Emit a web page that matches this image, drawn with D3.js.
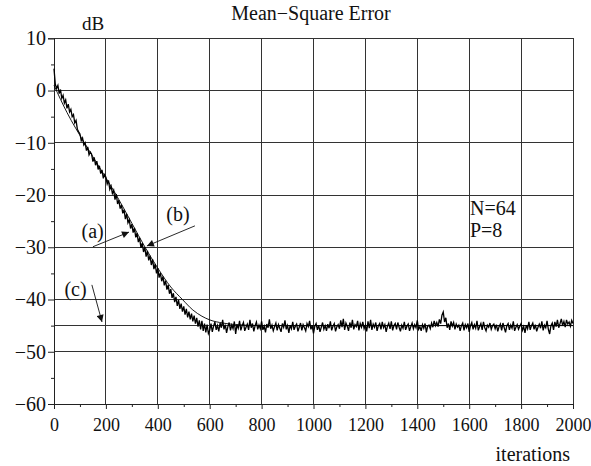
<!DOCTYPE html>
<html><head><meta charset="utf-8">
<script src="https://cdn.jsdelivr.net/npm/d3@7"></script>
<style>body{margin:0;background:#fff}svg{display:block}text{font-family:"Liberation Serif","Times New Roman",serif;fill:#111}</style>
</head><body>
<script>
// ---- data ----
const title = "Mean\u2212Square Error";
const yLabel = "dB";
const xLabel = "iterations";
const xTicks = [0,200,400,600,800,1000,1200,1400,1600,1800,2000];
const yTicks = [10,0,-10,-20,-30,-40,-50,-60];
const step = 5; // iteration spacing of simulated curve samples
// (a) simulated MSE (dB), one sample every 5 iterations, 0..2000
const curveA = [
4.2,1.2,0.4,1.0,-0.6,0.2,-1.5,-0.9,-2.4,-1.8,-3.4,-2.6,-4.1,-3.6,-5.0,-4.6,-6.2,-5.7,-7.4,-7.9,
-8.3,-9.6,-9.1,-10.4,-10.0,-11.5,-10.8,-12.3,-11.8,-12.2,-13.6,-12.8,-14.3,-13.5,-15.1,-14.4,-15.9,-15.2,-16.8,-16.1,
-16.6,-17.9,-17.2,-18.9,-18.3,-19.7,-19.1,-20.9,-19.8,-21.7,-21.0,-22.6,-21.9,-23.5,-22.8,-24.6,-23.6,-25.3,-24.7,-26.4,
-25.6,-27.2,-26.3,-28.1,-27.3,-29.0,-28.2,-30.1,-29.2,-30.9,-30.0,-31.8,-30.7,-32.5,-31.6,-33.4,-32.3,-34.2,-33.2,-35.0,
-34.0,-35.8,-34.9,-36.5,-35.6,-37.3,-36.4,-38.1,-37.2,-38.9,-38.0,-39.7,-38.8,-40.5,-39.5,-41.2,-40.1,-41.8,-40.8,-42.3,
-41.3,-42.9,-41.8,-43.4,-42.3,-43.8,-42.7,-44.2,-43.1,-44.6,-43.5,-45.2,-44.0,-45.7,-44.1,-46.0,-44.6,-46.3,-44.8,-46.5,
-45.9,-44.6,-46.2,-45.1,-44.3,-45.8,-45.0,-46.1,-44.5,-45.4,-43.9,-45.7,-44.8,-46.4,-45.2,-44.4,-45.9,-44.9,-45.6,-44.2,
-46.6,-44.8,-45.5,-44.1,-45.9,-45.0,-44.4,-46.0,-45.3,-44.7,-45.8,-43.9,-45.4,-44.6,-46.1,-45.0,-44.3,-45.7,-44.9,-45.6,
-44.2,-45.8,-45.1,-46.3,-44.7,-45.4,-43.8,-45.6,-44.9,-46.0,-45.2,-44.5,-45.9,-44.8,-45.5,-46.2,-44.6,-45.3,-44.0,-45.7,
-45.0,-46.4,-44.9,-45.6,-44.3,-45.8,-45.1,-44.7,-46.1,-45.3,-44.5,-45.9,-44.8,-45.4,-46.0,-44.6,-45.2,-44.1,-45.7,-45.0,
-46.5,-45.1,-44.6,-45.8,-44.9,-46.2,-45.3,-44.4,-45.7,-45.0,-46.0,-44.7,-45.5,-44.2,-45.9,-45.1,-44.6,-46.1,-45.2,-44.8,
-45.6,-44.0,-45.3,-43.7,-45.8,-44.5,-45.1,-46.0,-44.4,-45.4,-43.9,-45.7,-44.8,-45.2,-44.1,-45.9,-44.6,-45.3,-44.3,-45.6,
-44.9,-46.1,-44.2,-45.5,-43.9,-45.8,-44.7,-45.3,-44.4,-46.0,-45.0,-44.6,-45.7,-44.3,-45.4,-44.8,-46.2,-45.1,-44.5,-45.6,
-44.2,-45.9,-45.0,-44.6,-45.7,-44.4,-45.3,-46.1,-44.9,-45.5,-44.3,-45.8,-45.1,-44.7,-46.0,-45.2,-44.5,-45.6,-44.8,-45.4,
-44.0,-45.7,-45.2,-46.0,-44.8,-45.5,-44.6,-46.3,-45.1,-44.9,-45.6,-44.5,-45.3,-44.1,-45.0,-44.4,-45.2,-43.8,-44.6,-43.0,
-42.4,-44.3,-43.5,-45.4,-44.6,-45.8,-44.2,-45.1,-44.4,-45.7,-44.7,-45.3,-44.9,-46.0,-45.0,-44.5,-45.9,-44.8,-45.4,-44.6,
-46.2,-45.0,-44.4,-45.7,-44.8,-45.5,-44.1,-45.9,-45.2,-44.6,-45.8,-44.3,-45.4,-46.0,-44.9,-45.3,-44.5,-45.7,-45.0,-44.7,
-45.6,-44.8,-46.1,-45.2,-44.7,-45.9,-44.5,-45.4,-46.3,-45.0,-44.6,-45.8,-44.9,-45.5,-44.2,-46.0,-45.3,-44.8,-45.7,-45.1,
-44.6,-45.9,-45.2,-46.4,-44.9,-45.6,-44.3,-45.8,-45.0,-44.5,-45.7,-44.8,-46.1,-45.3,-44.7,-45.5,-44.2,-45.9,-44.9,-45.4,
-44.1,-45.7,-46.6,-45.0,-44.5,-45.8,-44.3,-45.2,-43.9,-45.4,-44.6,-43.7,-45.0,-44.2,-45.3,-43.9,-44.7,-44.3,-45.1,-44.0,
-44.6
];
// (b) theoretical MSE curve (iterations, dB)
const curveBIter = [0,50,117,180,240,300,351,400,450,495,535,570,600,650,700,800,2000];
const curveBdB   = [1,-4.2,-10,-15.1,-20,-25.4,-30,-34,-37.6,-40,-42,-43.2,-43.9,-44.5,-44.8,-45,-45];
// (c) minimum MSE level (dB)
const levelC = -45;
// annotations: label, label position, arrow start, arrow end (iterations, dB)
const annLabels = ["(a)","(b)","(c)"];
const annLabelPos = [[106,-28.2],[433,-25.0],[40,-39.3]];
const annFrom = [[150,-29.9],[543,-25.9],[146,-37.2]];
const annTo   = [[289,-27.1],[358,-29.75],[185,-44.3]];
const params = ["N=64","P=8"];
const paramPos = [[1603,-23.8],[1603,-28.0]];

// ---- chart ----
const W = 591, H = 466;
const m = {l:54, r:18, t:38.3, b:62};
const svg = d3.select("body").append("svg").attr("width",W).attr("height",H);
const x = d3.scaleLinear().domain([0,2000]).range([m.l, W-m.r]);
const y = d3.scaleLinear().domain([-60,10]).range([H-m.b, m.t]);

const defs = svg.append("defs");
defs.append("marker").attr("id","ah").attr("viewBox","0 0 10 10").attr("refX",10).attr("refY",5)
  .attr("markerWidth",9).attr("markerHeight",7).attr("markerUnits","userSpaceOnUse").attr("orient","auto")
  .append("path").attr("d","M0,0L10,5L0,10Z").attr("fill","#111");

const grid = svg.append("g").attr("stroke","#333").attr("stroke-width",1).attr("shape-rendering","crispEdges");
grid.selectAll(".vg").data(xTicks).enter().append("line")
  .attr("x1",d=>x(d)).attr("x2",d=>x(d)).attr("y1",y(-60)).attr("y2",y(10));
grid.selectAll(".hg").data(yTicks).enter().append("line")
  .attr("x1",x(0)).attr("x2",x(2000)).attr("y1",d=>y(d)).attr("y2",d=>y(d));
// line (c)
grid.append("line").attr("x1",x(0)).attr("x2",x(2000)).attr("y1",y(levelC)).attr("y2",y(levelC));

// axes
const fs = "20px";
const xAxis = d3.axisBottom(x).tickValues(xTicks).tickSize(5).tickPadding(9).tickFormat(d3.format("d"));
const gx = svg.append("g").attr("transform",`translate(0,${y(-60)})`).call(xAxis);
gx.selectAll("text").style("font-size","18px").attr("fill","#111");
const xMinor = d3.axisBottom(x).tickValues(d3.range(100,2000,200)).tickSize(3).tickFormat("");
svg.append("g").attr("transform",`translate(0,${y(-60)})`).call(xMinor).select(".domain").remove();

const yAxis = d3.axisLeft(y).tickValues(yTicks).tickSize(6).tickPadding(2).tickFormat(d=>d<0?"\u2212"+(-d):d);
const gy = svg.append("g").attr("transform",`translate(${x(0)},0)`).call(yAxis);
gy.selectAll("text").style("font-size",fs).attr("fill","#111");
const yMinor = d3.axisLeft(y).tickValues(d3.range(5,-60,-10)).tickSize(3).tickFormat("");
svg.append("g").attr("transform",`translate(${x(0)},0)`).call(yMinor).select(".domain").remove();
svg.selectAll(".domain, .tick line").attr("stroke","#222");

// curves
const dataA = curveA.map((v,i)=>[i*step, v]);
svg.append("path").datum(dataA).attr("fill","none").attr("stroke","#000").attr("stroke-width",1.3)
  .attr("d", d3.line().x(d=>x(d[0])).y(d=>y(d[1])));
const dataB = curveBIter.map((t,i)=>[t, curveBdB[i]]);
svg.append("path").datum(dataB).attr("fill","none").attr("stroke","#000").attr("stroke-width",0.9)
  .attr("d", d3.line().curve(d3.curveMonotoneX).x(d=>x(d[0])).y(d=>y(d[1])));

// annotations
annLabels.forEach((lab,i)=>{
  svg.append("text").attr("x",x(annLabelPos[i][0])).attr("y",y(annLabelPos[i][1])).style("font-size",fs).text(lab);
  svg.append("line").attr("x1",x(annFrom[i][0])).attr("y1",y(annFrom[i][1]))
    .attr("x2",x(annTo[i][0])).attr("y2",y(annTo[i][1])).attr("stroke","#111").attr("stroke-width",0.9)
    .attr("marker-end","url(#ah)");
});
params.forEach((p,i)=>{
  svg.append("text").attr("x",x(paramPos[i][0])).attr("y",y(paramPos[i][1])).style("font-size",fs).text(p);
});

// titles
svg.append("text").attr("x",311).attr("y",20).attr("text-anchor","middle").style("font-size","20px").text(title);
svg.append("text").attr("x",82).attr("y",30).style("font-size","19px").text(yLabel);
svg.append("text").attr("x",570).attr("y",461).attr("text-anchor","end").style("font-size",fs).text(xLabel);
</script>
</body></html>
